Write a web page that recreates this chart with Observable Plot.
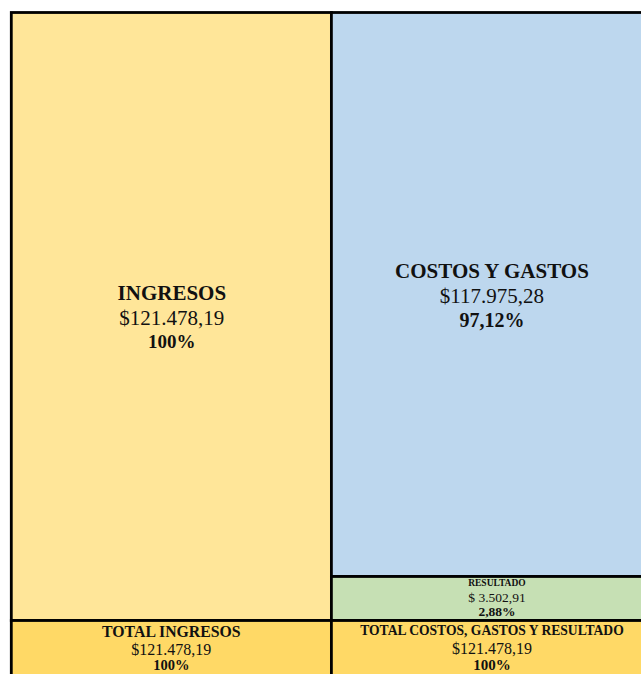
<!DOCTYPE html>
<html><head><meta charset="utf-8">
<script src="https://cdn.jsdelivr.net/npm/d3@7"></script>
<script src="https://cdn.jsdelivr.net/npm/@observablehq/plot@0.6"></script>
<style>html,body{margin:0;padding:0;background:#fff;overflow:hidden}#chart svg{overflow:hidden;display:block}</style>
</head><body><div id="chart"></div>
<script>
// ---- data ----
const categories = ["INGRESOS", "COSTOS Y GASTOS", "RESULTADO", "TOTAL INGRESOS", "TOTAL COSTOS, GASTOS Y RESULTADO"];
const values = [121478.19, 117975.28, 3502.91, 121478.19, 121478.19];
const baseValue = 121478.19;
const colors = ["#FFE699", "#BDD7EE", "#C6E0B4", "#FFD966", "#FFD966"];

// ---- formatting ----
const loc = d3.formatLocale({decimal: ",", thousands: ".", grouping: [3], currency: ["$", ""]});
const fmtMoney = loc.format("$,.2f");
const fmtPct = v => (Math.abs(v - 1) < 1e-9 ? "100%" : loc.format(".2f")(v * 100) + "%");
const moneyLabel = (v, i) => (i === 2 ? "$ " + loc.format(",.2f")(v) : fmtMoney(v));

// ---- layout (grid units: columns 0..2, rows 0..100 for the main block) ----
const split = 92.76;
const layout = [
  {col: 0, y1: 0, y2: 100, sizes: [21, 21, 19], offs: [-17.5, 7.5, 30.5], dx: 0},
  {col: 1, y1: 0, y2: split, sizes: [21, 21, 20], offs: [-16.5, 8.5, 32.5], dx: 0},
  {col: 1, y1: split, y2: 100, sizes: [9.5, 13.5, 13.5], offs: [-12.5, 3.5, 17.5], dx: 5},
  {col: 0, y1: 100, y2: 110, sizes: [15.8, 16, 14.5], offs: [-14.4, 3.6, 18.8], dx: -0.5},
  {col: 1, y1: 100, y2: 110, sizes: [13.6, 16, 15], offs: [-16.9, 2.1, 18.6], dx: 0}
];

const cells = categories.map((c, i) => ({
  name: c,
  value: values[i],
  money: moneyLabel(values[i], i),
  pct: fmtPct(values[i] / baseValue),
  fill: colors[i],
  x1: layout[i].col, x2: layout[i].col + 1,
  y1: layout[i].y1, y2: layout[i].y2,
  cx: layout[i].col + 0.5, cy: (layout[i].y1 + layout[i].y2) / 2,
  L: layout[i]
}));

const font = "'Liberation Serif', 'Times New Roman', serif";
const textMarks = [];
cells.forEach(c => {
  const lines = [
    {t: c.name, w: "bold"},
    {t: c.money, w: "normal"},
    {t: c.pct, w: "bold"}
  ];
  lines.forEach((ln, k) => {
    textMarks.push(Plot.text([c], {
      x: "cx", y: "cy", text: () => ln.t,
      dy: c.L.offs[k], dx: c.L.dx,
      lineAnchor: "bottom", textAnchor: "middle",
      fontSize: c.L.sizes[k], fontWeight: ln.w,
      fill: "#111", fontFamily: font
    }));
  });
});

const chart = Plot.plot({
  width: 641, height: 674,
  margin: 0,
  style: {fontFamily: font, background: "#fff", overflow: "hidden"},
  x: {type: "linear", domain: [0, 2], range: [11.3, 651.5], axis: null},
  y: {type: "linear", domain: [0, 100], range: [12.5, 620.5], axis: null},
  marks: [
    Plot.rect(cells, {x1: "x1", x2: "x2", y1: "y1", y2: "y2", fill: "fill", stroke: "#000", strokeWidth: 2.8, inset: 0}),
    ...textMarks
  ]
});
document.getElementById("chart").appendChild(chart);
</script>
</body></html>
